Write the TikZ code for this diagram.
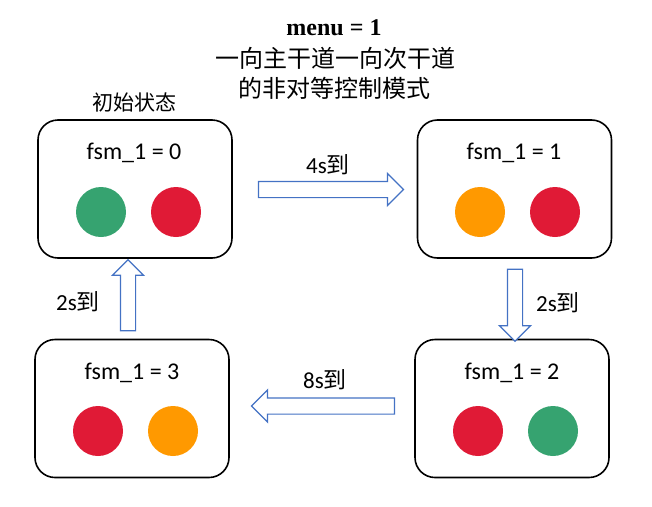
\documentclass[tikz,border=0pt]{standalone}
\usepackage{fontspec}
\setmainfont{Liberation Serif}
\setsansfont{Carlito}
\newfontfamily\cjk{Noto Sans CJK SC}
\usetikzlibrary{shapes.arrows, calc}
\definecolor{lampgreen}{RGB}{54,163,112}
\definecolor{lampred}{RGB}{224,26,54}
\definecolor{lamporange}{RGB}{255,153,0}
\definecolor{arrowblue}{RGB}{68,114,196}
\tikzset{state/.style={rectangle, draw, line width=1.6pt, rounded corners=20pt,
minimum width=194pt, minimum height=138pt}}
\tikzset{lamp/.style={circle, minimum size=50pt, inner sep=0pt}}
\tikzset{fsmlabel/.style={font=\sffamily\fontsize{24}{26}\selectfont}}
\tikzset{blockarrow/.style={single arrow, draw=arrowblue, fill=white, line width=1.2pt,
single arrow head extend=8pt, single arrow tip angle=90}}
\tikzset{harrow/.style={blockarrow, inner xsep=0pt, inner ysep=7.5pt}}
\tikzset{varrow/.style={blockarrow, inner xsep=7pt, inner ysep=0pt}}
\tikzset{steplabel/.style={font=\sffamily\fontsize{23}{26}\selectfont}}

\begin{document}
\begin{tikzpicture}[x=1pt, y=-1pt]
\useasboundingbox (0,0) rectangle (652,506);

\node [font=\bfseries\fontsize{24}{28}\selectfont] (title) at (334, 28) {menu = 1};
\node [font=\cjk\fontsize{24}{28}\selectfont] (title2) at (335, 58) {一向主干道一向次干道};
\node [font=\cjk\fontsize{24}{28}\selectfont] (title3) at (334, 88) {的非对等控制模式};
\node [font=\cjk\fontsize{21}{24}\selectfont] (init) at (134, 102) {初始状态};

\node [state] (s0) at (135, 189) {};
\node [state] (s1) at (514.5, 189) {};
\node [state] (s2) at (512, 408.5) {};
\node [state] (s3) at (132, 408.5) {};

\node [fsmlabel] (f0) at (134, 153) {fsm\_1 = 0};
\node [fsmlabel] (f1) at (514, 153) {fsm\_1 = 1};
\node [fsmlabel] (f2) at (512, 373) {fsm\_1 = 2};
\node [fsmlabel] (f3) at (132, 373) {fsm\_1 = 3};

\node [lamp, fill=lampgreen] (l0a) at (101, 212) {};
\node [lamp, fill=lampred] (l0b) at (176, 212) {};
\node [lamp, fill=lamporange] (l1a) at (480, 212) {};
\node [lamp, fill=lampred] (l1b) at (555, 212) {};
\node [lamp, fill=lampred] (l2a) at (478, 431) {};
\node [lamp, fill=lampgreen] (l2b) at (553, 431) {};
\node [lamp, fill=lampred] (l3a) at (98, 431) {};
\node [lamp, fill=lamporange] (l3b) at (173, 431) {};

% block arrows between the states
\node [harrow, minimum height=145pt] (a01) at (327, 189.5) {};
\node [varrow, minimum height=72pt, shape border rotate=270] (a12) at (515, 301.5) {};
\node [harrow, minimum height=143pt, shape border rotate=180] (a23) at (327, 406) {};
\node [varrow, minimum height=71pt, shape border rotate=90] (a30) at (128, 299) {};

\node [steplabel] (t01) at (328, 165) {4s{\cjk 到}};
\node [steplabel] (t12) at (558, 303) {2s{\cjk 到}};
\node [steplabel] (t23) at (325, 380) {8s{\cjk 到}};
\node [steplabel] (t30) at (78, 302) {2s{\cjk 到}};

\end{tikzpicture}
\end{document}
